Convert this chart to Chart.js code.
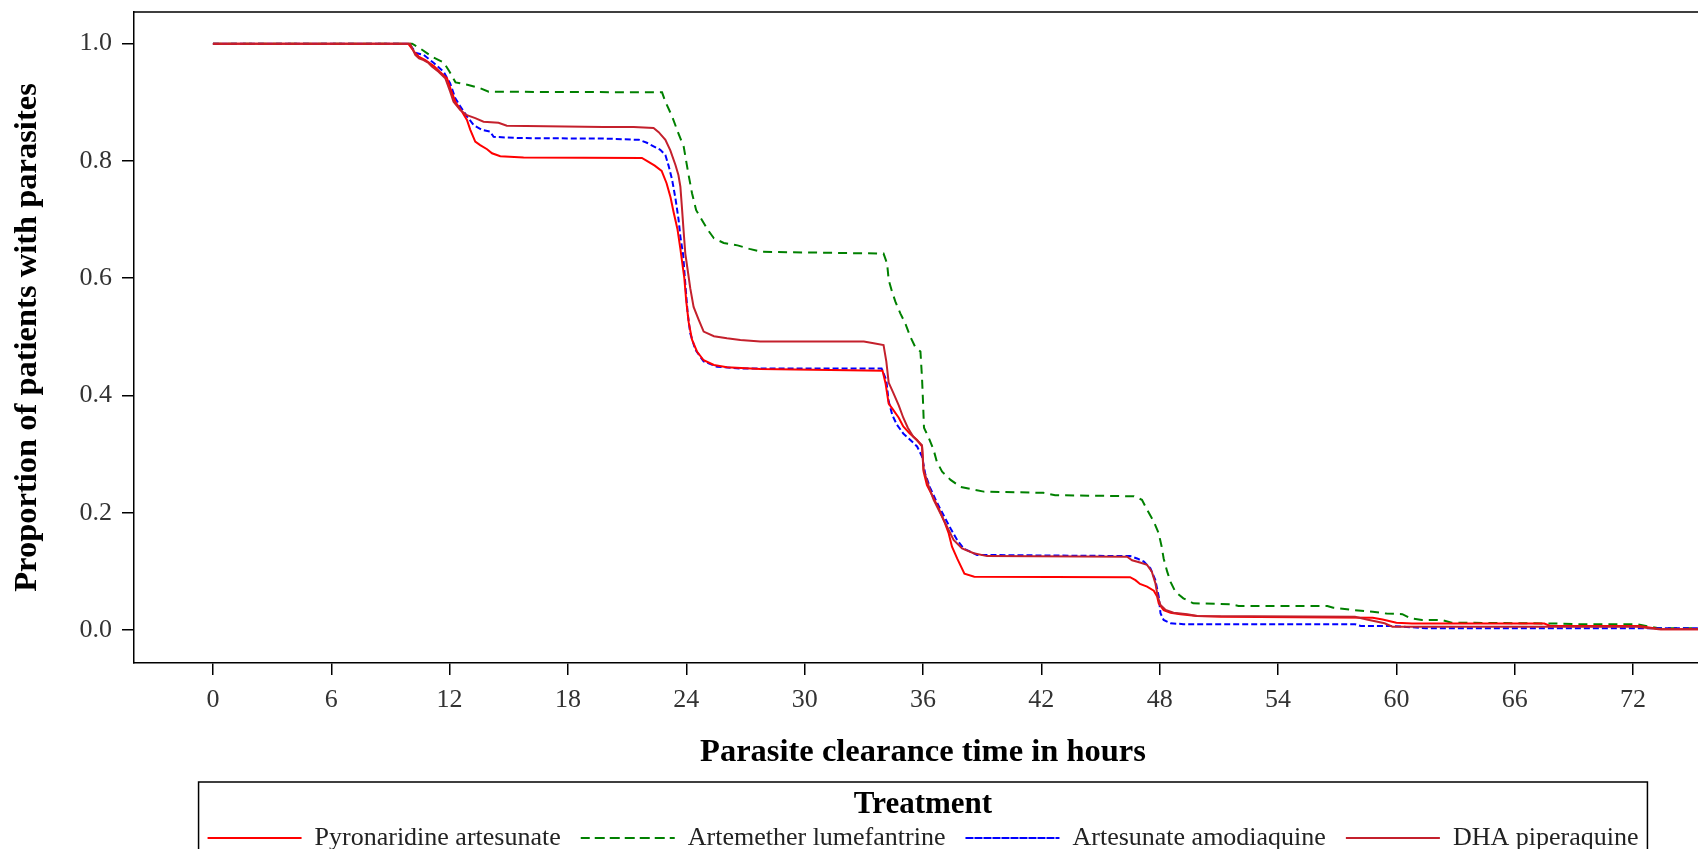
<!DOCTYPE html>
<html>
<head>
<meta charset="utf-8">
<script src="https://cdn.jsdelivr.net/npm/chart.js@4.4.1/dist/chart.umd.min.js"></script>
<style>
  html, body { margin: 0; padding: 0; background: #fff; overflow: hidden; }
  #wrap { width: 1698px; height: 849px; overflow: hidden; }
  canvas { display: block; }
</style>
</head>
<body>
<div id="wrap"><canvas id="km" width="1720" height="862"></canvas></div>
<script>
// Kaplan-Meier style curves (hours, proportion with parasites)
const seriesNames = ['Pyronaridine artesunate', 'Artemether lumefantrine', 'Artesunate amodiaquine', 'DHA piperaquine'];
const xTicks = [0, 6, 12, 18, 24, 30, 36, 42, 48, 54, 60, 66, 72];
const yTicks = [0, 0.2, 0.4, 0.6, 0.8, 1.0];

const pyroTime = [0, 9.9, 10.26, 10.43, 10.77, 11.2, 11.5, 11.87, 12.07, 12.29, 12.63, 12.88, 13.05, 13.3, 13.55, 13.9, 14.15, 14.57, 15.75,
  21.75, 22.0, 22.4, 22.75, 23.0, 23.2, 23.36, 23.55, 23.7, 23.8, 23.9, 24.0, 24.12, 24.29, 24.54, 24.88, 25.4, 26.06, 27.75,
  33.95, 34.1, 34.26, 34.5, 34.77, 35.0, 35.33, 35.7, 35.95, 36.03, 36.2, 36.46, 36.8, 37.08, 37.3, 37.47, 37.73, 38.1, 38.6,
  46.5, 46.77, 47.0, 47.36, 47.7, 47.87, 47.95, 48.2, 48.55, 49.05, 49.9, 51.1, 58.8, 59.3, 60.0, 60.8, 67.5, 67.8, 72.3, 73.4, 76];
const pyroSurv = [1.0, 1.0, 0.984, 0.978, 0.972, 0.962, 0.952, 0.941, 0.921, 0.901, 0.884, 0.870, 0.853, 0.833, 0.827, 0.820, 0.813, 0.808, 0.806,
  0.805, 0.800, 0.792, 0.783, 0.762, 0.738, 0.712, 0.684, 0.650, 0.625, 0.600, 0.560, 0.525, 0.495, 0.475, 0.460, 0.452, 0.448, 0.445,
  0.442, 0.421, 0.386, 0.375, 0.362, 0.347, 0.335, 0.324, 0.313, 0.270, 0.247, 0.230, 0.207, 0.185, 0.165, 0.142, 0.122, 0.096, 0.091,
  0.090, 0.085, 0.0785, 0.074, 0.067, 0.057, 0.0455, 0.034, 0.0295, 0.0267, 0.0239, 0.0227, 0.021, 0.018, 0.0125, 0.011, 0.011, 0.0068, 0.0068, 0.0011, 0.0011];

const artemTime = [0, 10.1, 10.5, 11.1, 11.7, 12.0, 12.3, 12.9, 13.55, 13.98, 22.77, 22.94, 23.28, 23.6, 23.87, 24.1, 24.29, 24.5, 24.8, 25.1, 25.4,
  25.9, 26.6, 27.2, 27.8, 34.0, 34.18, 34.26, 34.43, 34.6, 34.85, 35.1, 35.36, 35.6, 35.87, 35.95, 36.0, 36.05, 36.3, 36.54, 36.7, 36.97,
  37.4, 37.9, 38.5, 39.08, 42.1, 42.7, 46.7, 47.1, 47.36, 47.7, 47.95, 48.1, 48.2, 48.38, 48.55, 48.8, 49.2, 49.7, 51.6, 52.0, 56.5, 56.8,
  57.8, 58.8, 59.5, 60.3, 60.7, 61.3, 62.3, 62.8, 68.2, 69.2, 72.2, 73.3, 76];
const artemSurv = [1.0, 1.0, 0.992, 0.978, 0.968, 0.952, 0.934, 0.930, 0.924, 0.918, 0.917, 0.901, 0.876, 0.847, 0.824, 0.779, 0.745, 0.716, 0.699, 0.682, 0.668,
  0.660, 0.656, 0.650, 0.645, 0.642, 0.625, 0.597, 0.577, 0.560, 0.540, 0.523, 0.500, 0.483, 0.475, 0.430, 0.390, 0.345, 0.327, 0.307, 0.287, 0.270,
  0.256, 0.244, 0.240, 0.236, 0.234, 0.230, 0.228, 0.222, 0.205, 0.185, 0.165, 0.142, 0.122, 0.0995, 0.082, 0.065, 0.054, 0.0455, 0.044, 0.041, 0.041, 0.038,
  0.034, 0.031, 0.028, 0.027, 0.020, 0.017, 0.017, 0.0125, 0.011, 0.0097, 0.0097, 0.003, 0.003];

const amodTime = [0, 9.95, 10.3, 10.68, 11.2, 11.7, 12.03, 12.29, 12.54, 12.88, 13.22, 13.64, 14.06, 14.23, 15.58, 20.0, 21.6, 22.0, 22.34, 22.68, 22.94,
  23.1, 23.28, 23.45, 23.6, 23.7, 23.84, 23.95, 24.07, 24.2, 24.46, 24.88, 25.56, 26.74, 33.9, 34.14, 34.26, 34.45, 34.68, 35.0, 35.36, 35.7,
  35.95, 36.12, 36.37, 36.7, 37.13, 37.4, 37.73, 38.06, 38.74, 46.5, 46.85, 47.2, 47.53, 47.78, 47.95, 48.04, 48.2, 48.55, 49.2, 57.9, 58.2,
  59.8, 61.5, 76];
const amodSurv = [1.0, 1.0, 0.984, 0.981, 0.967, 0.952, 0.932, 0.907, 0.893, 0.876, 0.861, 0.853, 0.850, 0.841, 0.839, 0.838, 0.836, 0.831, 0.825, 0.819, 0.810,
  0.792, 0.768, 0.736, 0.702, 0.671, 0.640, 0.590, 0.540, 0.506, 0.478, 0.458, 0.449, 0.446, 0.446, 0.426, 0.390, 0.366, 0.350, 0.335, 0.324, 0.313,
  0.296, 0.265, 0.242, 0.218, 0.190, 0.173, 0.1535, 0.139, 0.128, 0.126, 0.122, 0.1165, 0.105, 0.085, 0.057, 0.0285, 0.017, 0.0114, 0.0100, 0.0099, 0.0068,
  0.0068, 0.003, 0.003];

const dhaTime = [0, 10.0, 10.26, 10.45, 10.68, 10.93, 11.1, 11.44, 11.78, 12.03, 12.2, 12.54, 12.88, 13.3, 13.72, 14.48, 14.9, 19.8, 21.33, 22.34, 22.6,
  22.94, 23.19, 23.45, 23.6, 23.7, 23.78, 23.86, 23.95, 24.07, 24.2, 24.37, 24.63, 24.88, 25.4, 26.06, 26.74, 27.75, 33.0, 33.5, 34.0, 34.14,
  34.26, 34.5, 34.77, 35.0, 35.23, 35.5, 35.95, 36.03, 36.3, 36.54, 36.88, 37.22, 37.55, 37.98, 38.57, 39.25, 46.35, 46.6, 47.0, 47.36, 47.6,
  47.78, 47.9, 48.04, 48.3, 48.7, 49.4, 49.9, 57.9, 58.5, 59.4, 59.8, 72.2, 73.3, 76];
const dhaSurv = [1.0, 1.0, 0.981, 0.975, 0.972, 0.967, 0.961, 0.952, 0.941, 0.918, 0.901, 0.887, 0.878, 0.873, 0.867, 0.865, 0.860, 0.858, 0.858, 0.856, 0.849,
  0.836, 0.818, 0.793, 0.776, 0.756, 0.720, 0.682, 0.642, 0.614, 0.583, 0.551, 0.529, 0.509, 0.501, 0.4975, 0.4946, 0.492, 0.492, 0.489, 0.486, 0.458,
  0.422, 0.404, 0.383, 0.362, 0.345, 0.330, 0.315, 0.273, 0.244, 0.222, 0.199, 0.176, 0.1535, 0.139, 0.131, 0.126, 0.125, 0.119, 0.115, 0.111, 0.0995,
  0.080, 0.057, 0.0426, 0.034, 0.0295, 0.0267, 0.024, 0.0227, 0.018, 0.0114, 0.0057, 0.0057, 0.0011, 0.0011];

const FONT = "'Liberation Serif', 'Times New Roman', serif";

function toPoints(ts, ss) {
  return ts.map((t, i) => ({ x: t, y: ss[i] }));
}

function line(label, ts, ss, color, dash, order) {
  return {
    label,
    data: toPoints(ts, ss),
    borderColor: color,
    backgroundColor: 'transparent',
    borderWidth: 2,
    borderDash: dash,
    pointRadius: 0,
    tension: 0,
    fill: false,
    order
  };
}

// scales should not push the plot area in for their end labels
function noEdgePadding(s) {
  s.paddingTop = 0;
  s.paddingBottom = 0;
  s.paddingLeft = 0;
  s.paddingRight = 0;
}

// top/right frame lines and the box round the legend
const framePlugin = {
  id: 'frame',
  afterDraw(chart) {
    const { ctx, chartArea: a, legend } = chart;
    ctx.save();
    ctx.strokeStyle = '#000';
    ctx.lineWidth = 1.5;
    ctx.beginPath();
    ctx.moveTo(a.left, a.top);
    ctx.lineTo(a.right, a.top);
    ctx.lineTo(a.right, a.bottom);
    ctx.stroke();
    const hb = legend.legendHitBoxes || [];
    if (hb.length) {
      const l = Math.min(...hb.map(h => h.left)) - 9;
      const r = Math.max(...hb.map(h => h.left + h.width)) + 9;
      const top = legend.top - 2;
      ctx.strokeRect(l, top, r - l, chart.height - top + 10);
    }
    ctx.restore();
  }
};

new Chart(document.getElementById('km'), {
  type: 'line',
  data: {
    datasets: [
      line(seriesNames[0], pyroTime, pyroSurv, '#FF0000', [], 2),
      line(seriesNames[1], artemTime, artemSurv, '#008000', [9, 6], 4),
      line(seriesNames[2], amodTime, amodSurv, '#0000FF', [6, 3], 3),
      line(seriesNames[3], dhaTime, dhaSurv, '#C4202C', [], 1)
    ]
  },
  options: {
    responsive: false,
    animation: false,
    layout: { padding: { top: 12, right: 8, bottom: 1, left: 0 } },
    plugins: {
      tooltip: { enabled: false },
      legend: {
        position: 'bottom',
        fullSize: false,
        align: 'center',
        title: {
          display: true,
          text: 'Treatment',
          color: '#000',
          font: { family: FONT, size: 31, weight: 'bold', lineHeight: 1 },
          padding: { top: 5, bottom: -15 }
        },
        labels: {
          boxWidth: 94,
          boxHeight: 0,
          padding: 20,
          color: '#222',
          font: { family: FONT, size: 26 },
          sort: (a, b) => a.datasetIndex - b.datasetIndex
        }
      }
    },
    scales: {
      x: {
        type: 'linear',
        min: -4,
        max: 76,
        afterBuildTicks: s => { s.ticks = xTicks.map(v => ({ value: v })); },
        afterFit: s => { s.height = 121; noEdgePadding(s); },
        grid: { drawOnChartArea: false, drawTicks: true, tickLength: 12, color: '#000', lineWidth: 1.5 },
        border: { display: true, color: '#000', width: 1.5 },
        ticks: { color: '#333', font: { family: FONT, size: 26 }, padding: 10, maxRotation: 0, autoSkip: false },
        title: {
          display: true,
          text: 'Parasite clearance time in hours',
          color: '#000',
          font: { family: FONT, size: 32.5, weight: 'bold' },
          padding: { top: 0, bottom: 12 }
        }
      },
      y: {
        type: 'linear',
        min: -0.0563,
        max: 1.054,
        afterBuildTicks: s => { s.ticks = yTicks.map(v => ({ value: v })); },
        afterFit: s => { s.width = 134; noEdgePadding(s); },
        grid: { drawOnChartArea: false, drawTicks: true, tickLength: 12, color: '#000', lineWidth: 1.5 },
        border: { display: true, color: '#000', width: 1.5 },
        ticks: { color: '#333', font: { family: FONT, size: 26 }, padding: 10, callback: v => Number(v).toFixed(1) },
        title: {
          display: true,
          text: 'Proportion of patients with parasites',
          color: '#000',
          font: { family: FONT, size: 32.5, weight: 'bold' },
          padding: { top: 8, bottom: 0 }
        }
      }
    }
  },
  plugins: [framePlugin]
});
</script>
</body>
</html>
